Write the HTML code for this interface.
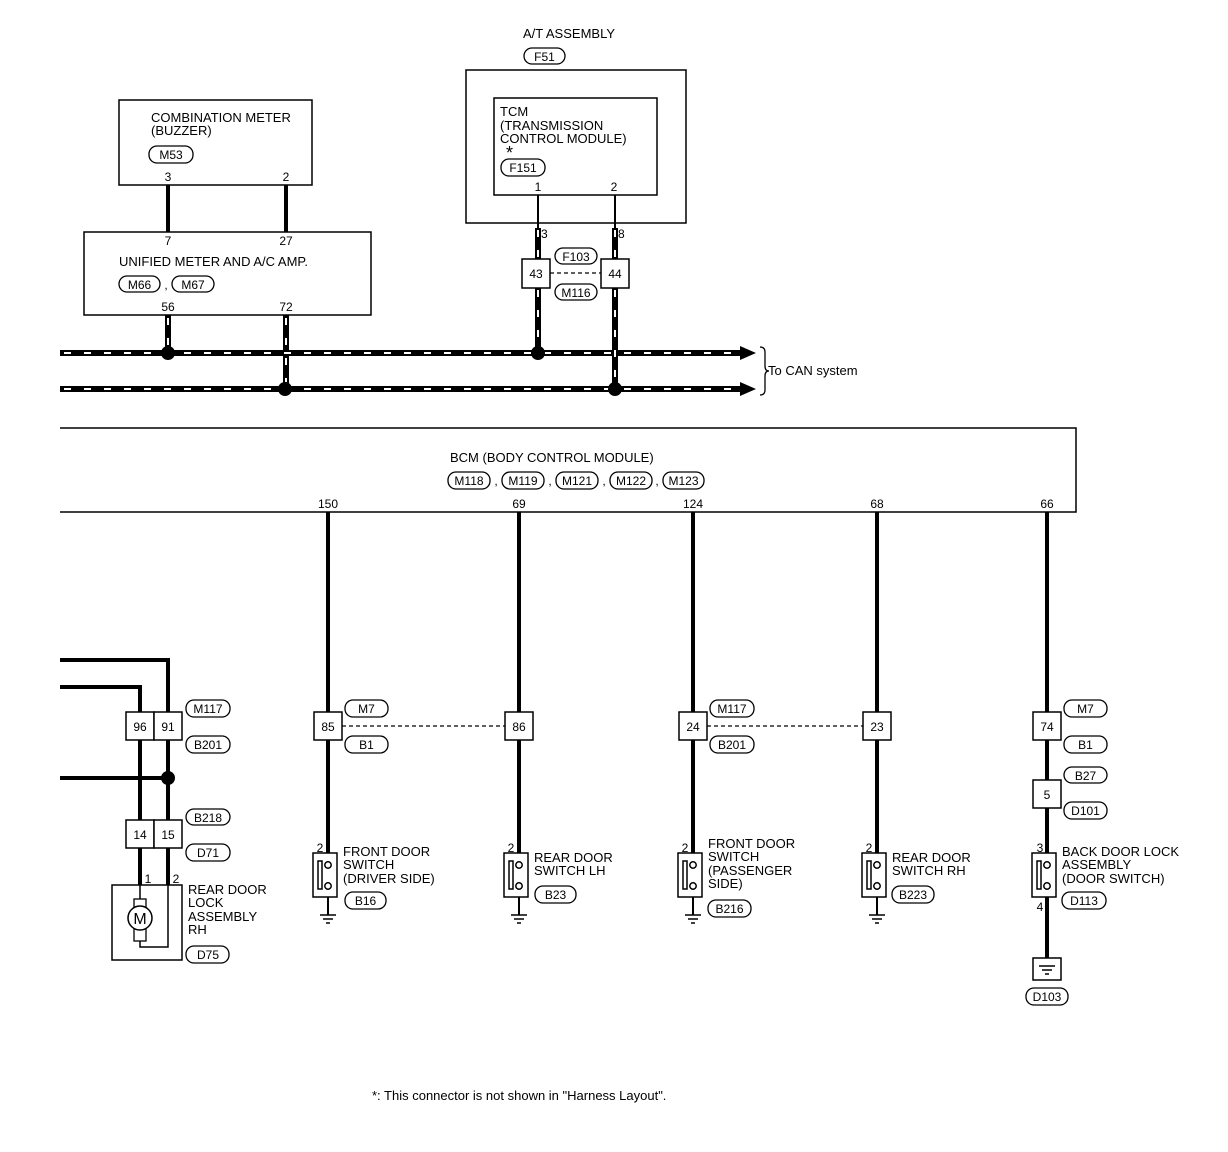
<!DOCTYPE html>
<html><head><meta charset="utf-8"><style>
html,body{margin:0;padding:0;background:#fff}
svg{display:block}
text{font-family:"Liberation Sans",Arial,sans-serif;font-size:13px;fill:#000}
.t{font-size:12px}
</style></head><body>
<svg width="1228" height="1152" viewBox="0 0 1228 1152" xmlns="http://www.w3.org/2000/svg">
<defs>
<g id="sw">
  <rect x="-15" y="0" width="24" height="44" fill="#fff" stroke="#000" stroke-width="1.5"/>
  <rect x="-10" y="8" width="4" height="28" fill="#fff" stroke="#000" stroke-width="1.5"/>
  <circle cx="0" cy="12" r="3.2" fill="#fff" stroke="#000" stroke-width="1.5"/>
  <circle cx="0" cy="33" r="3.2" fill="#fff" stroke="#000" stroke-width="1.5"/>
</g>
<g id="gnd">
  <line x1="-8" y1="0" x2="8" y2="0" stroke="#000" stroke-width="1.5"/>
  <line x1="-5" y1="4" x2="5" y2="4" stroke="#000" stroke-width="1.5"/>
  <line x1="-2" y1="8" x2="2" y2="8" stroke="#000" stroke-width="1.5"/>
</g>
</defs>
<g fill="none" stroke="#000" stroke-width="1.5">
<!-- top boxes -->
<rect x="466" y="70" width="220" height="153"/>
<rect x="494" y="98" width="163" height="97"/>
<rect x="119" y="100" width="193" height="85"/>
<rect x="84" y="232" width="287" height="83"/>
<polyline points="60,428 1076,428 1076,512 60,512"/>
</g>
<!-- pills -->
<g fill="#fff" stroke="#000" stroke-width="1.3">
<rect x="524" y="48" width="41" height="16" rx="8"/>
<rect x="501" y="159" width="44" height="17" rx="8"/>
<rect x="149" y="146" width="44" height="17" rx="8"/>
<rect x="119" y="276" width="41" height="16" rx="8"/>
<rect x="172" y="276" width="42" height="16" rx="8"/>
<rect x="555" y="248" width="42" height="16" rx="8"/>
<rect x="555" y="284" width="42" height="16" rx="8"/>
<rect x="448" y="472" width="42" height="17" rx="8"/>
<rect x="502" y="472" width="42" height="17" rx="8"/>
<rect x="556" y="472" width="42" height="17" rx="8"/>
<rect x="610" y="472" width="42" height="17" rx="8"/>
<rect x="663" y="472" width="41" height="17" rx="8"/>
<rect x="186" y="700" width="44" height="17" rx="8"/>
<rect x="186" y="736" width="44" height="17" rx="8"/>
<rect x="186" y="809" width="44" height="16" rx="8"/>
<rect x="186" y="844" width="44" height="17" rx="8"/>
<rect x="186" y="946" width="43" height="17" rx="8"/>
<rect x="345" y="700" width="43" height="17" rx="8"/>
<rect x="345" y="736" width="43" height="17" rx="8"/>
<rect x="710" y="700" width="44" height="17" rx="8"/>
<rect x="710" y="736" width="44" height="17" rx="8"/>
<rect x="1064" y="700" width="43" height="17" rx="8"/>
<rect x="1064" y="736" width="43" height="17" rx="8"/>
<rect x="1064" y="767" width="43" height="16" rx="8"/>
<rect x="1064" y="802" width="43" height="17" rx="8"/>
<rect x="345" y="892" width="41" height="17" rx="8"/>
<rect x="535" y="886" width="41" height="17" rx="8"/>
<rect x="708" y="900" width="43" height="17" rx="8"/>
<rect x="892" y="886" width="42" height="17" rx="8"/>
<rect x="1062" y="892" width="44" height="17" rx="8"/>
<rect x="1026" y="988" width="42" height="17" rx="8"/>
</g>
<!-- solid thick wires -->
<g stroke="#000" stroke-width="4" fill="none">
<line x1="168" y1="185" x2="168" y2="232"/>
<line x1="286" y1="185" x2="286" y2="232"/>
<line x1="328" y1="512" x2="328" y2="858"/>
<line x1="519" y1="512" x2="519" y2="858"/>
<line x1="693" y1="512" x2="693" y2="858"/>
<line x1="877" y1="512" x2="877" y2="858"/>
<line x1="1047" y1="512" x2="1047" y2="860"/>
<line x1="1047" y1="890" x2="1047" y2="970"/>
<polyline points="60,660 168,660 168,885"/>
<polyline points="60,687 140,687 140,885"/>
<line x1="60" y1="778" x2="168" y2="778"/>
</g>
<g stroke="#000" stroke-width="2" fill="none">
<line x1="328" y1="890" x2="328" y2="915"/>
<line x1="519" y1="890" x2="519" y2="915"/>
<line x1="693" y1="890" x2="693" y2="915"/>
<line x1="877" y1="890" x2="877" y2="915"/>
<line x1="538" y1="195" x2="538" y2="228"/>
<line x1="615" y1="195" x2="615" y2="228"/>
</g>
<!-- CAN dashed wires -->
<g fill="none">
<g stroke="#000" stroke-width="6">
<line x1="60" y1="353" x2="742" y2="353"/>
<line x1="60" y1="389" x2="742" y2="389"/>
<line x1="168" y1="315" x2="168" y2="353"/>
<line x1="286" y1="315" x2="286" y2="389"/>
<line x1="538" y1="228" x2="538" y2="353"/>
<line x1="615" y1="228" x2="615" y2="389"/>
</g>
<g stroke="#fff" stroke-width="2" stroke-dasharray="7,13">
<line x1="64" y1="353" x2="738" y2="353"/>
<line x1="64" y1="389" x2="738" y2="389"/>
<line x1="168" y1="318" x2="168" y2="346"/>
<line x1="286" y1="318" x2="286" y2="382"/>
<line x1="538" y1="230" x2="538" y2="346"/>
<line x1="615" y1="230" x2="615" y2="382"/>
</g>
</g>
<polygon points="740,346 756,353 740,360" fill="#000"/>
<polygon points="740,382 756,389 740,396" fill="#000"/>
<path d="M760,347 Q765,347 765,352 L765,366 Q765,371 769,371 Q765,371 765,376 L765,390 Q765,395 760,395" fill="none" stroke="#000" stroke-width="1.3"/>
<!-- junction dots -->
<g fill="#000">
<circle cx="168" cy="353" r="7"/><circle cx="538" cy="353" r="7"/>
<circle cx="285" cy="389" r="7"/><circle cx="615" cy="389" r="7"/>
<circle cx="168" cy="778" r="7"/>
</g>
<!-- dashed connector links -->
<g stroke="#000" stroke-width="1.3" stroke-dasharray="4,3">
<line x1="550" y1="273" x2="601" y2="273"/>
<line x1="342" y1="726" x2="505" y2="726"/>
<line x1="707" y1="726" x2="863" y2="726"/>
</g>
<!-- connector boxes -->
<g fill="#fff" stroke="#000" stroke-width="1.5">
<rect x="522" y="259" width="28" height="29"/>
<rect x="601" y="259" width="28" height="29"/>
<rect x="126" y="712" width="28" height="28"/><rect x="154" y="712" width="28" height="28"/>
<rect x="126" y="820" width="28" height="28"/><rect x="154" y="820" width="28" height="28"/>
<rect x="314" y="712" width="28" height="28"/>
<rect x="505" y="712" width="28" height="28"/>
<rect x="679" y="712" width="28" height="28"/>
<rect x="863" y="712" width="28" height="28"/>
<rect x="1033" y="712" width="28" height="28"/>
<rect x="1033" y="780" width="28" height="28"/>
<rect x="1033" y="958" width="28" height="22"/>
</g>
<!-- motor -->
<rect x="112" y="885" width="70" height="75" fill="none" stroke="#000" stroke-width="1.5"/>
<polyline points="168,885 168,947 140,947 140,940" fill="none" stroke="#000" stroke-width="1.5"/>
<line x1="140" y1="885" x2="140" y2="900" stroke="#000" stroke-width="1.5"/>
<rect x="134" y="899" width="12" height="42" fill="#fff" stroke="#000" stroke-width="1.3"/>
<circle cx="140" cy="918" r="12" fill="#fff" stroke="#000" stroke-width="1.5"/>
<text x="140" y="924" text-anchor="middle" style="font-size:16px">M</text>
<!-- switches -->
<use href="#sw" x="328" y="853"/>
<use href="#sw" x="519" y="853"/>
<use href="#sw" x="693" y="853"/>
<use href="#sw" x="877" y="853"/>
<use href="#sw" x="1047" y="853"/>
<use href="#gnd" x="328" y="915"/>
<use href="#gnd" x="519" y="915"/>
<use href="#gnd" x="693" y="915"/>
<use href="#gnd" x="877" y="915"/>
<use href="#gnd" x="1047" y="966"/>
<!-- text -->
<text x="523" y="38">A/T ASSEMBLY</text>
<text x="544.5" y="61" text-anchor="middle" class="t">F51</text>
<text x="500" y="116">TCM</text>
<text x="500" y="130">(TRANSMISSION</text>
<text x="500" y="143"> CONTROL MODULE)</text>
<text x="506" y="159" style="font-size:18px">*</text>
<text x="523" y="172" text-anchor="middle" class="t">F151</text>
<text x="538" y="191" text-anchor="middle" class="t">1</text>
<text x="614" y="191" text-anchor="middle" class="t">2</text>
<text x="151" y="122">COMBINATION METER</text>
<text x="151" y="135">(BUZZER)</text>
<text x="171" y="159" text-anchor="middle" class="t">M53</text>
<text x="168" y="181" text-anchor="middle" class="t">3</text>
<text x="286" y="181" text-anchor="middle" class="t">2</text>
<text x="168" y="245" text-anchor="middle" class="t">7</text>
<text x="286" y="245" text-anchor="middle" class="t">27</text>
<text x="119" y="266">UNIFIED METER AND A/C AMP.</text>
<text x="139.5" y="289" text-anchor="middle" class="t">M66</text>
<text x="166" y="289" text-anchor="middle" class="t">,</text>
<text x="193" y="289" text-anchor="middle" class="t">M67</text>
<text x="168" y="311" text-anchor="middle" class="t">56</text>
<text x="286" y="311" text-anchor="middle" class="t">72</text>
<text x="541" y="238" class="t">3</text>
<text x="618" y="238" class="t">8</text>
<text x="536" y="278" text-anchor="middle" class="t">43</text>
<text x="615" y="278" text-anchor="middle" class="t">44</text>
<text x="576" y="261" text-anchor="middle" class="t">F103</text>
<text x="576" y="297" text-anchor="middle" class="t">M116</text>
<text x="768" y="375">To CAN system</text>
<text x="450" y="462">BCM (BODY CONTROL MODULE)</text>
<text x="469" y="485" text-anchor="middle" class="t">M118</text>
<text x="496" y="485" text-anchor="middle" class="t">,</text>
<text x="523" y="485" text-anchor="middle" class="t">M119</text>
<text x="550" y="485" text-anchor="middle" class="t">,</text>
<text x="577" y="485" text-anchor="middle" class="t">M121</text>
<text x="604" y="485" text-anchor="middle" class="t">,</text>
<text x="631" y="485" text-anchor="middle" class="t">M122</text>
<text x="657" y="485" text-anchor="middle" class="t">,</text>
<text x="683.5" y="485" text-anchor="middle" class="t">M123</text>
<text x="328" y="508" text-anchor="middle" class="t">150</text>
<text x="519" y="508" text-anchor="middle" class="t">69</text>
<text x="693" y="508" text-anchor="middle" class="t">124</text>
<text x="877" y="508" text-anchor="middle" class="t">68</text>
<text x="1047" y="508" text-anchor="middle" class="t">66</text>
<text x="140" y="731" text-anchor="middle" class="t">96</text>
<text x="168" y="731" text-anchor="middle" class="t">91</text>
<text x="140" y="839" text-anchor="middle" class="t">14</text>
<text x="168" y="839" text-anchor="middle" class="t">15</text>
<text x="208" y="713" text-anchor="middle" class="t">M117</text>
<text x="208" y="749" text-anchor="middle" class="t">B201</text>
<text x="208" y="822" text-anchor="middle" class="t">B218</text>
<text x="208" y="857" text-anchor="middle" class="t">D71</text>
<text x="208" y="959" text-anchor="middle" class="t">D75</text>
<text x="148" y="883" text-anchor="middle" class="t">1</text>
<text x="176" y="883" text-anchor="middle" class="t">2</text>
<text x="188" y="894">REAR DOOR</text>
<text x="188" y="907">LOCK</text>
<text x="188" y="921">ASSEMBLY</text>
<text x="188" y="934">RH</text>
<text x="328" y="731" text-anchor="middle" class="t">85</text>
<text x="519" y="731" text-anchor="middle" class="t">86</text>
<text x="693" y="731" text-anchor="middle" class="t">24</text>
<text x="877" y="731" text-anchor="middle" class="t">23</text>
<text x="1047" y="731" text-anchor="middle" class="t">74</text>
<text x="1047" y="799" text-anchor="middle" class="t">5</text>
<text x="366.5" y="713" text-anchor="middle" class="t">M7</text>
<text x="366.5" y="749" text-anchor="middle" class="t">B1</text>
<text x="732" y="713" text-anchor="middle" class="t">M117</text>
<text x="732" y="749" text-anchor="middle" class="t">B201</text>
<text x="1085.5" y="713" text-anchor="middle" class="t">M7</text>
<text x="1085.5" y="749" text-anchor="middle" class="t">B1</text>
<text x="1085.5" y="780" text-anchor="middle" class="t">B27</text>
<text x="1085.5" y="815" text-anchor="middle" class="t">D101</text>
<text x="320" y="852" text-anchor="middle" class="t">2</text>
<text x="511" y="852" text-anchor="middle" class="t">2</text>
<text x="685" y="852" text-anchor="middle" class="t">2</text>
<text x="869" y="852" text-anchor="middle" class="t">2</text>
<text x="1040" y="852" text-anchor="middle" class="t">3</text>
<text x="1040" y="911" text-anchor="middle" class="t">4</text>
<text x="343" y="856">FRONT DOOR</text>
<text x="343" y="869">SWITCH</text>
<text x="343" y="883">(DRIVER SIDE)</text>
<text x="365.5" y="905" text-anchor="middle" class="t">B16</text>
<text x="534" y="862">REAR DOOR</text>
<text x="534" y="875">SWITCH LH</text>
<text x="555.5" y="899" text-anchor="middle" class="t">B23</text>
<text x="708" y="848">FRONT DOOR</text>
<text x="708" y="861">SWITCH</text>
<text x="708" y="875">(PASSENGER</text>
<text x="708" y="888">SIDE)</text>
<text x="729.5" y="913" text-anchor="middle" class="t">B216</text>
<text x="892" y="862">REAR DOOR</text>
<text x="892" y="875">SWITCH RH</text>
<text x="913" y="899" text-anchor="middle" class="t">B223</text>
<text x="1062" y="856">BACK DOOR LOCK</text>
<text x="1062" y="869">ASSEMBLY</text>
<text x="1062" y="883">(DOOR SWITCH)</text>
<text x="1084" y="905" text-anchor="middle" class="t">D113</text>
<text x="1047" y="1001" text-anchor="middle" class="t">D103</text>
<text x="372" y="1100" style="font-size:13px">*: This connector is not shown in "Harness Layout".</text>
</svg>
</body></html>
